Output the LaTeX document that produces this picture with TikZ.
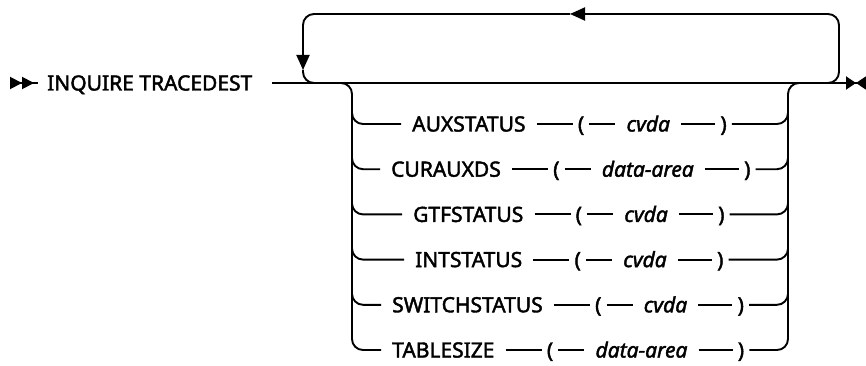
\documentclass[tikz,border=0pt]{standalone}
\usepackage{fontspec}
\setmainfont{Noto Sans}[FakeBold=2]
\usetikzlibrary{arrows.meta, positioning}

\begin{document}
\begin{tikzpicture}[
        x=1pt, y=-1pt,
        word/.style={
            font=\fontsize{21}{25}\selectfont,
            text height=15pt,
            text depth=0pt,
            inner ysep=2pt,
            inner xsep=11pt
        },
        kw/.style={word},
        var/.style={word, font=\fontsize{21}{25}\selectfont\itshape},
        paren/.style={word, inner xsep=5pt},
        link/.style={line width=1.9pt},
        rail/.style={link, rounded corners=11pt},
        flow/.style={-{Triangle[length=15pt, width=13pt]}},
        startmark/.style={{Triangle[reversed, length=12pt, width=12pt] Triangle[reversed, length=12pt, width=12pt]}-},
        endmark/.style={-{Triangle[length=10pt, width=13pt] Triangle[reversed, length=10pt, width=13pt]}}
    ]
    \useasboundingbox (0,0) rectangle (866,366);

    % statement and main line
    \coordinate (begin) at (10,83);
    \node[kw, anchor=west, inner xsep=9pt] (stmt) at (38,83) {INQUIRE TRACEDEST};
    \draw[link, startmark] (begin) -- (stmt.west);
    \coordinate (mainin) at (272,83);
    \coordinate (finish) at (866,83);
    \draw[link, endmark] (mainin) -- (finish);

    % repeat loop
    \coordinate (lpin) at (815,83);
    \coordinate (lpout) at (328,83);
    \coordinate (lptr) at (839,14);
    \coordinate (lptl) at (303,14);
    \coordinate (lpmid) at (570,14);
    \coordinate (lpdown) at (303,70);
    \draw[rail, flow] (lpin) -| (lptr) -- (lpmid);
    \draw[rail, flow] (lpmid) -- (lptl) -- (lpdown);
    \draw[rail] (lpdown) |- (lpout);

    % choice rails
    \coordinate (brin) at (338,83);
    \coordinate (brout) at (802,83);
    \coordinate (ltop) at (352,96);
    \coordinate (rtop) at (788,96);
    \draw[rail] (brin) -| (ltop);
    \draw[rail] (rtop) |- (brout);

    % options
    \node[kw, anchor=west] (aux) at (401,124) {AUXSTATUS};
    \node[paren, right=36pt of aux] (auxl) {(};
    \node[var, right=26pt of auxl] (auxv) {cvda};
    \node[paren, right=34pt of auxv] (auxr) {)};
    \draw[link] (aux) -- (auxl) (auxl) -- (auxv) (auxv) -- (auxr);
    \draw[rail] (aux) -| (ltop);
    \draw[rail] (auxr) -| (rtop);

    \node[kw, anchor=west] (cur) at (380,169.2) {CURAUXDS};
    \node[paren, right=36pt of cur] (curl) {(};
    \node[var, right=26pt of curl] (curv) {data-area};
    \node[paren, right=34pt of curv] (curr) {)};
    \draw[link] (cur) -- (curl) (curl) -- (curv) (curv) -- (curr);
    \draw[rail] (cur) -| (ltop);
    \draw[rail] (curr) -| (rtop);

    \node[kw, anchor=west] (gtf) at (402,214.4) {GTFSTATUS};
    \node[paren, right=36pt of gtf] (gtfl) {(};
    \node[var, right=26pt of gtfl] (gtfv) {cvda};
    \node[paren, right=34pt of gtfv] (gtfr) {)};
    \draw[link] (gtf) -- (gtfl) (gtfl) -- (gtfv) (gtfv) -- (gtfr);
    \draw[rail] (gtf) -| (ltop);
    \draw[rail] (gtfr) -| (rtop);

    \node[kw, anchor=west] (int) at (404,259.6) {INTSTATUS};
    \node[paren, right=36pt of int] (intl) {(};
    \node[var, right=26pt of intl] (intv) {cvda};
    \node[paren, right=34pt of intv] (intr) {)};
    \draw[link] (int) -- (intl) (intl) -- (intv) (intv) -- (intr);
    \draw[rail] (int) -| (ltop);
    \draw[rail] (intr) -| (rtop);

    \node[kw, anchor=west] (sw) at (381,304.8) {SWITCHSTATUS};
    \node[paren, right=36pt of sw] (swl) {(};
    \node[var, right=26pt of swl] (swv) {cvda};
    \node[paren, right=34pt of swv] (swr) {)};
    \draw[link] (sw) -- (swl) (swl) -- (swv) (swv) -- (swr);
    \draw[rail] (sw) -| (ltop);
    \draw[rail] (swr) -| (rtop);

    \node[kw, anchor=west] (tab) at (381,350) {TABLESIZE};
    \node[paren, right=36pt of tab] (tabl) {(};
    \node[var, right=26pt of tabl] (tabv) {data-area};
    \node[paren, right=34pt of tabv] (tabr) {)};
    \draw[link] (tab) -- (tabl) (tabl) -- (tabv) (tabv) -- (tabr);
    \draw[rail] (tab) -| (ltop);
    \draw[rail] (tabr) -| (rtop);
\end{tikzpicture}
\end{document}
